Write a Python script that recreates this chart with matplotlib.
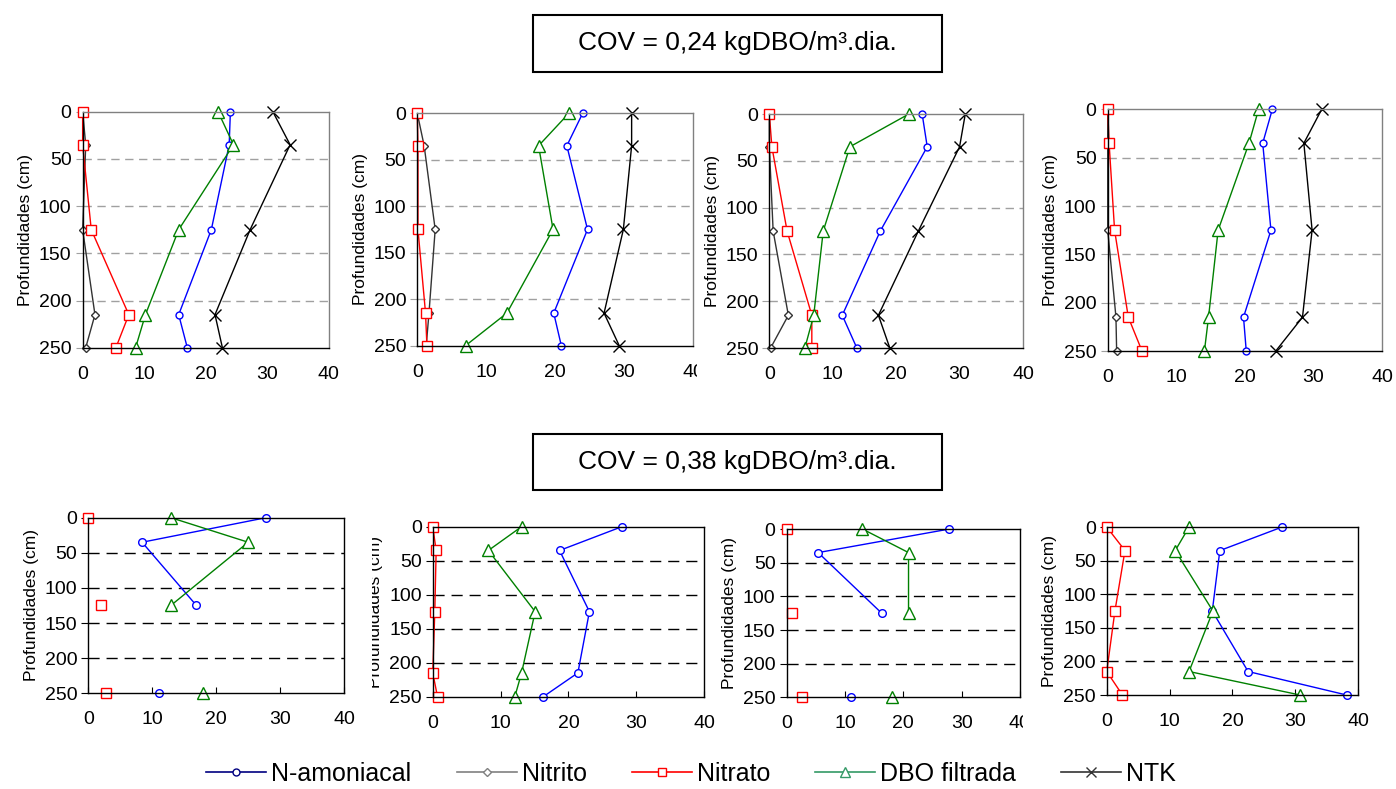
import numpy as np
import matplotlib.pyplot as plt
from matplotlib.lines import Line2D
from matplotlib.patches import Rectangle

plt.rcParams['font.family'] = ['Liberation Sans', 'DejaVu Sans']

nan = np.nan
depth = [0, 35, 125, 215, 250]

# COV = 0,24 kgDBO/m3.dia (top row, 4 panels)
amon_top = [
    [24.0, 23.8, 20.9, 15.6, 17.0],
    [24.0, 21.7, 24.7, 19.8, 20.9],
    [24.1, 24.9, 17.5, 11.5, 13.8],
    [24.0, 22.6, 23.8, 19.8, 20.2],
]
nitrito_top = [
    [0.0, 0.5, 0.0, 2.0, 0.5],
    [0.0, 1.0, 2.6, 1.7, 1.3],
    [0.0, 0.0, 0.6, 3.0, 0.2],
    [0.0, 0.0, 0.0, 1.2, 1.3],
]
nitrato_top = [
    [0.0, 0.0, 1.4, 7.5, 5.4],
    [0.0, 0.1, 0.1, 1.2, 1.4],
    [0.0, 0.4, 2.8, 6.7, 6.7],
    [0.0, 0.2, 1.0, 3.0, 5.0],
]
dbo_top = [
    [22.0, 24.5, 15.6, 10.2, 8.6],
    [22.0, 17.6, 19.7, 13.0, 7.0],
    [22.0, 12.7, 8.5, 7.0, 5.6],
    [22.0, 20.6, 16.1, 14.7, 14.1],
]
ntk_top = [
    [30.9, 33.7, 27.2, 21.5, 22.7],
    [31.1, 31.1, 29.9, 27.1, 29.3],
    [30.9, 30.0, 23.5, 17.2, 19.0],
    [31.2, 28.6, 29.8, 28.4, 24.5],
]

# COV = 0,38 kgDBO/m3.dia (bottom row, 4 panels)
amon_bot = [
    [27.8, 8.4, 16.9, nan, 11.1],
    [27.9, 18.7, 23.1, 21.4, 16.3],
    [27.9, 5.4, 16.3, nan, 11.1],
    [27.9, 18.0, 16.8, 22.5, 38.2],
]
nitrato_bot = [
    [0.0, nan, 2.0, nan, 2.8],
    [0.0, 0.5, 0.3, 0.0, 0.7],
    [0.0, nan, 1.0, nan, 2.6],
    [0.0, 2.9, 1.3, 0.0, 2.5],
]
dbo_bot = [
    [12.9, 25.0, 12.9, nan, 18.0],
    [13.1, 8.2, 15.1, 13.1, 12.1],
    [13.0, 20.9, 20.9, nan, 18.0],
    [13.1, 10.9, 16.9, 13.1, 30.8],
]

titles = ['COV = 0,24 kgDBO/m³.dia.', 'COV = 0,38 kgDBO/m³.dia.']
legend_labels = ['N-amoniacal', 'Nitrito', 'Nitrato', 'DBO filtrada', 'NTK']
ylabel = 'Profundidades (cm)'

# panel boxes in figure fraction [left, bottom, width, height]
top_pos = [
    [0.0592, 0.5593, 0.1764, 0.2991],
    [0.2989, 0.5619, 0.1975, 0.2946],
    [0.5511, 0.5589, 0.1817, 0.2966],
    [0.7935, 0.5551, 0.1965, 0.3063],
]
bot_pos = [
    [0.0633, 0.1213, 0.1832, 0.2226],
    [0.3100, 0.1170, 0.1943, 0.2155],
    [0.5635, 0.1162, 0.1671, 0.2133],
    [0.7928, 0.1191, 0.1800, 0.2129],
]

W, H = 1396, 789
fig = plt.figure(figsize=(W / 100, H / 100), dpi=100)


def setup(ax, grid_col, dashes, frame_top, tick_x_len):
    ax.set_xlim(0, 40)
    ax.set_ylim(250, 0)
    ax.set_xticks(np.arange(0, 41, 10))
    ax.set_yticks(np.arange(0, 251, 50))
    for y in [50, 100, 150, 200]:
        ax.axhline(y, color=grid_col, lw=1, dashes=dashes, zorder=0)
    ax.spines['left'].set_color('black')
    ax.spines['bottom'].set_color('black')
    ax.spines['top'].set_color(frame_top)
    ax.spines['right'].set_color(frame_top)
    for s in ax.spines.values():
        s.set_linewidth(1)
    ax.tick_params(axis='x', direction='in', length=tick_x_len, pad=13,
                   labelsize=14, color='black')
    ax.tick_params(axis='y', direction='out', length=5, pad=3,
                   labelsize=14, color=grid_col)
    ax.set_ylabel(ylabel, fontsize=12.5, labelpad=4)


def series(ax, x, color, marker, ms):
    ax.plot(x, depth, color=color, marker=marker, ms=ms, mfc='white',
            mec=color, mew=1, lw=1, clip_on=False)


def cover(x0, y0, x1, y1, z):
    # white chart-area background of a neighbouring chart that hides some text
    fig.add_artist(Rectangle((x0 / W, 1 - y1 / H), (x1 - x0) / W, (y1 - y0) / H,
                             transform=fig.transFigure, fc='white', ec='none',
                             zorder=z))


zs_top = [1, 0, 2, 3]
zs_bot = [2, 0, 1, 3]

for i, pos in enumerate(top_pos):
    ax = fig.add_axes(pos)
    ax.set_zorder(zs_top[i])
    setup(ax, '#a0a0a0', (6, 4), '#808080', 0)
    series(ax, amon_top[i], '#0000ff', 'o', 5)
    series(ax, nitrito_top[i], '#333333', 'D', 4)
    series(ax, nitrato_top[i], '#ff0000', 's', 7)
    series(ax, dbo_top[i], '#008000', '^', 8)
    series(ax, ntk_top[i], 'black', 'x', 8)

for i, pos in enumerate(bot_pos):
    ax = fig.add_axes(pos)
    ax.set_zorder(zs_bot[i])
    setup(ax, 'black', (8, 5), 'black', 4)
    series(ax, amon_bot[i], '#0000ff', 'o', 5.5)
    series(ax, nitrato_bot[i], '#ff0000', 's', 7)
    series(ax, dbo_bot[i], '#008000', '^', 8.5)

cover(697, 355, 760, 398, 1.5)    # cuts "40" of top panel 2
cover(300, 515, 372, 705, 0.5)    # cuts ylabel of bottom panel 6
cover(1023, 700, 1045, 745, 2.5)  # cuts "40" of bottom panel 7

# title boxes
for title, yb, yc in [(titles[0], 0.9091, 0.9455), (titles[1], 0.3790, 0.4144)]:
    fig.add_artist(Rectangle((0.3816, yb), 0.2930, 0.0715, transform=fig.transFigure,
                             fill=False, ec='black', lw=1.5, zorder=5))
    fig.text(0.5281, yc, title, ha='center', va='center', fontsize=19)

handles = [
    Line2D([], [], color='#000080', marker='o', ms=5, mfc='white', lw=1.2),
    Line2D([], [], color='#808080', marker='D', ms=4, mfc='white', lw=1.2),
    Line2D([], [], color='#ff0000', marker='s', ms=6, mfc='white', lw=1.2),
    Line2D([], [], color='#339966', marker='^', ms=7, mfc='white', lw=1.2),
    Line2D([], [], color='#333333', marker='x', ms=7, mfc='white', lw=1.2),
]
fig.legend(handles, legend_labels, loc='center', bbox_to_anchor=(0.495, 0.019),
           ncol=5, frameon=False, fontsize=18, handlelength=2.4,
           handletextpad=0.2, columnspacing=1.8, borderaxespad=0)

fig.savefig('out.png', dpi=100)
